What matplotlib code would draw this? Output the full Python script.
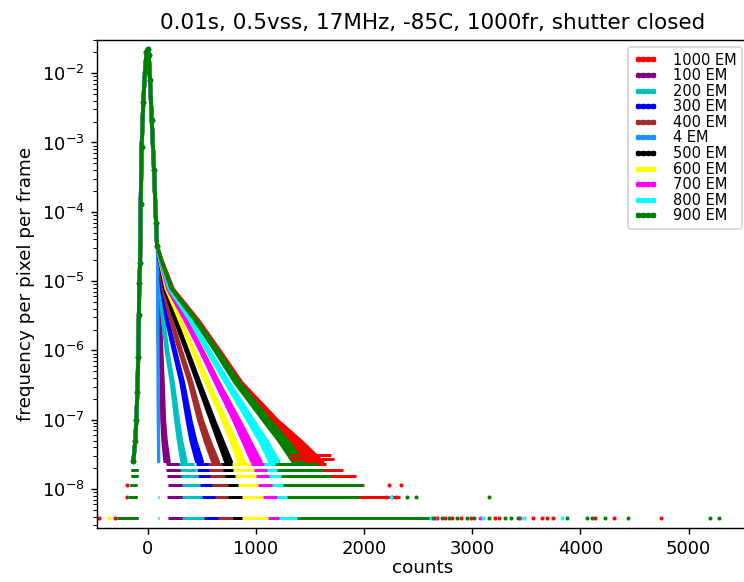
import matplotlib
matplotlib.use("Agg")
import matplotlib.pyplot as plt
from matplotlib.lines import Line2D

# ---------------- data ----------------
series_names = ['1000 EM', '100 EM', '200 EM', '300 EM', '400 EM', '4 EM',
                '500 EM', '600 EM', '700 EM', '800 EM', '900 EM']
series_colors = ['red', 'purple', 'c', 'blue', 'brown', 'dodgerblue',
                 'black', 'yellow', 'magenta', 'cyan', 'green']

# shared read-noise peak (counts, frequency)
peak_counts = [-131, -113, -103, -94, -86, -80, -76, -69, -63, -54, -39, -23,
               -10, 2, 12, 23, 39, 60, 79, 88]
peak_freq = [2.5e-8, 5e-8, 1e-7, 2.5e-7, 8e-7, 3.2e-6, 9.3e-6, 1.8e-5, 1.3e-4,
             8.7e-4, 3.9e-3, 1.05e-2, 2.0e-2, 2.2e-2, 1.8e-2, 7.9e-3, 2.1e-3,
             4.0e-4, 6.8e-5, 3.2e-5]

# discrete low-count levels (1..8 events)
count_levels = [3.8e-9, 7.6e-9, 1.14e-8, 1.53e-8, 1.91e-8, 2.29e-8, 2.67e-8, 3.05e-8]

# shared left-side rows of the peak (level index, start, end)
left_row_level = [0, 1, 2, 3, 4]
left_row_start = [-282, -177, -162, -152, -150]
left_row_end = [-88, -97, -97, -91, -91]

# EM tails: centre counts and half-spread of the noisy band at these frequencies
tail_freq = [3.2e-5, 2e-5, 7.9e-6, 2.8e-6, 1e-6, 3.5e-7, 1e-7, 5e-8, 2.5e-8]
tail_center = [
    [88, 129, 226, 455, 652, 842, 1150, 1345, 1520],   # 1000
    [88, 92, 97, 111, 120, 131, 140, 153, 176],        # 100
    [88, 95, 111, 139, 176, 224, 268, 296, 333],       # 200
    [88, 99, 129, 176, 245, 316, 379, 420, 476],       # 300
    [88, 103, 143, 213, 300, 393, 485, 550, 624],      # 400
    [88, 88, 89, 90, 92, 93, 95, 97, 99],              # 4
    [88, 107, 157, 254, 360, 467, 596, 670, 744],      # 500
    [88, 111, 171, 296, 421, 547, 707, 790, 864],      # 600
    [88, 115, 185, 347, 495, 639, 818, 910, 1003],     # 700
    [88, 119, 199, 393, 559, 732, 947, 1067, 1169],    # 800
    [88, 124, 217, 439, 633, 824, 1095, 1252, 1391],   # 900
]
tail_spread = [
    [4, 5, 9, 13, 18, 28, 50, 75, 100],
    [4, 4, 6, 8, 10, 12, 15, 18, 22],
    [4, 4, 6, 8, 10, 12, 15, 18, 22],
    [4, 5, 7, 9, 12, 15, 20, 25, 30],
    [4, 5, 7, 9, 12, 15, 20, 25, 30],
    [3, 3, 3, 3, 3, 3, 3, 3, 3],
    [4, 5, 7, 9, 12, 15, 20, 25, 30],
    [4, 5, 7, 9, 12, 15, 20, 25, 30],
    [4, 5, 8, 11, 15, 20, 30, 38, 45],
    [4, 5, 8, 11, 15, 20, 30, 38, 45],
    [4, 5, 9, 13, 18, 25, 35, 45, 55],
]

# rows of 1..8 events per series: start / end counts
row_start = [
    [1500, 1420, 1400, 1380, 1360, 1340, 1330, 1320],
    [192, 177, 187, 180, 175, 170],
    [316, 316, 320, 310, 300, 295],
    [520, 500, 485, 470, 460, 450],
    [655, 624, 593, 580, 570, 560],
    [98, 98],
    [793, 747, 744, 720, 700, 690],
    [873, 870, 836, 810, 790, 780],
    [1117, 1070, 1021, 1000, 980, 960],
    [1215, 1194, 1148, 1120, 1100, 1080],
    [1379, 1286, 1255, 1230, 1200, 1180],
]
row_end = [
    [2600, 2330, 2000, 1930, 1810, 1650, 1720, 1700],
    [360, 340, 330, 320, 310, 300],
    [560, 530, 500, 470, 450, 430],
    [700, 680, 650, 620, 600, 580],
    [850, 800, 780, 760, 740, 720],
    [106, 106],
    [950, 940, 900, 880, 860, 840],
    [1200, 1150, 1100, 1050, 1020, 1000],
    [1300, 1280, 1250, 1200, 1180, 1150],
    [1500, 1400, 1350, 1320, 1300, 1280],
    [2600, 1950, 1990, 1700, 1625, 1580],
]

# isolated events (counts, level index)
outlier_counts = [
    [-448, -300, 2680, 2750, 2810, 2900, 2990, 3210, 3250, 3566, 3643, 3690,
     3750, 4136, 4312, 4743, -193, 2200, 2260, 2300, -187, 2235, 2340],
    [], [], [], [], [], [], [-356], [2660, 3070, 3440],
    [2620, 3100, 3480, 3828, 2250],
    [2640, 2720, 2790, 2860, 2950, 3020, 3160, 3300, 3360, 3420, 3874, 4059,
     4105, 4228, 4444, 5199, 5285, 2396, 2479, 3159],
]
outlier_level = [
    [0] * 16 + [1] * 4 + [2] * 3,
    [], [], [], [], [], [], [0], [0, 0, 0],
    [0, 0, 0, 0, 1],
    [0] * 17 + [1] * 3,
]

title = '0.01s, 0.5vss, 17MHz, -85C, 1000fr, shutter closed'
xlabel = 'counts'
ylabel = 'frequency per pixel per frame'

# ---------------- figure ----------------
W, H, DPI = 744, 582, 127
plt.rcParams['xtick.labelsize'] = 10.2
plt.rcParams['ytick.labelsize'] = 10.2
fig = plt.figure(figsize=(W / DPI, H / DPI), dpi=DPI)
ax = fig.add_axes([97 / W, 54 / H, 652 / W, 488 / H])
ax.set_yscale('log')

for i, (name, col) in enumerate(zip(series_names, series_colors)):
    ax.plot(peak_counts, peak_freq, color=col, lw=2.2, marker='o', ms=2.0,
            solid_capstyle='round')
    for lv, s, e in zip(left_row_level, left_row_start, left_row_end):
        ax.hlines(count_levels[lv], s, e, color=col, lw=1.7)
    lo = [c - w for c, w in zip(tail_center[i], tail_spread[i])]
    hi = [c + w for c, w in zip(tail_center[i], tail_spread[i])]
    ax.fill_betweenx(tail_freq, lo, hi, facecolor=col, edgecolor=col, lw=1.5)
    for lv, (s, e) in enumerate(zip(row_start[i], row_end[i])):
        ax.hlines(count_levels[lv], s, e, color=col, lw=1.7)
    if outlier_counts[i]:
        ax.plot(outlier_counts[i], [count_levels[k] for k in outlier_level[i]],
                'o', color=col, ms=2.3, mew=0)

ax.set_xlim(-467, 5559)
ax.set_ylim(2.74e-9, 3.01e-2)
ax.set_xticks([0, 1000, 2000, 3000, 4000, 5000])
ax.set_title(title, fontsize=12.2, x=0.5146)
ax.set_xlabel(xlabel, fontsize=10.4, labelpad=0.5)
ax.set_ylabel(ylabel, fontsize=10.4)

handles = [Line2D([0], [0], color=c, lw=2.6, marker='o', ms=2.2) for c in series_colors]
ax.legend(handles, series_names, loc='upper right', fontsize=8.3,
          bbox_to_anchor=(742 / W, 1 - 46.7 / H), bbox_transform=fig.transFigure,
          borderaxespad=0, labelspacing=0.04, handlelength=1.65,
          handletextpad=1.0, numpoints=4)

fig.savefig('out.png', dpi=DPI)
